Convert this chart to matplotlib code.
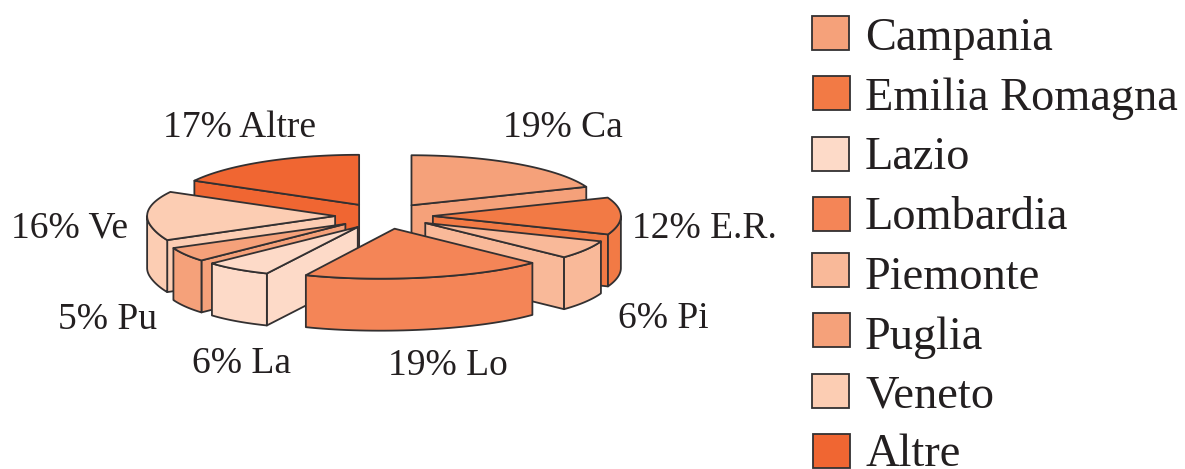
import matplotlib
matplotlib.use('Agg')
import matplotlib.pyplot as plt
from matplotlib.patches import Polygon, Rectangle
import numpy as np

# Share of total per region, in legend order
regions = ['Campania', 'Emilia Romagna', 'Lazio', 'Lombardia', 'Piemonte', 'Puglia', 'Veneto', 'Altre']
shares = [19, 12, 6, 19, 6, 5, 16, 17]
short_names = ['Ca', 'E.R.', 'La', 'Lo', 'Pi', 'Pu', 'Ve', 'Altre']
colors = ['#f5a17a', '#f27a45', '#fddac8', '#f48557', '#f9b999', '#f5a17a', '#fccdb3', '#f06632']

# Order the slices go around the pie, and the back-to-front paint order
pie_order = ['Campania', 'Emilia Romagna', 'Piemonte', 'Lombardia', 'Lazio', 'Puglia', 'Veneto', 'Altre']
paint_order = ['Altre', 'Campania', 'Veneto', 'Emilia Romagna', 'Puglia', 'Piemonte', 'Lazio', 'Lombardia']

# Pie geometry in pixels
cx, cy = 384, 216
rx, ry = 188, 50
depth = 52
explode = 0.26
lean = 4.0e-5
lean_x, lean_y = 520, 225

label_pos = {
    'Ca': (503, 137), 'E.R.': (632, 238), 'Pi': (618, 328), 'Lo': (388, 375),
    'La': (192, 373), 'Pu': (58, 329), 'Ve': (11, 238), 'Altre': (163, 137),
}
legend_tops = [16, 76, 137, 197, 253, 313, 374, 434]
legend_lefts = [811.5, 813, 811.5, 813, 811.5, 813, 811.5, 813]
legend_base = [50, 110, 169, 229, 289, 349, 408, 466]

plt.rcParams['font.family'] = ['Liberation Serif', 'DejaVu Serif']
text_color = '#231f20'
edge = '#333031'

fig = plt.figure(figsize=(11.85, 4.69), dpi=100)
ax = fig.add_axes([0, 0, 1, 1])
ax.set_xlim(0, 1185)
ax.set_ylim(469, 0)
ax.axis('off')


def warp(x, y):
    # front of the pie leans out to the left
    return x + (x - lean_x) * lean * np.maximum(y - lean_y, 0) ** 2, y


def project(ox, oy, theta):
    return warp(ox + rx * np.cos(theta), oy + ry * np.sin(theta))


def face(pts, color, z):
    ax.add_patch(Polygon(pts, closed=True, facecolor=color, edgecolor=edge, lw=1.3, joinstyle='round', zorder=z))


# Start and end angle of each slice
spans = {}
start = -90.0
for name in pie_order:
    sweep = shares[regions.index(name)] * 3.6
    spans[name] = (start, start + sweep)
    start += sweep

for z, name in enumerate(paint_order):
    color = colors[regions.index(name)]
    t1, t2 = spans[name]
    mid = np.radians((t1 + t2) / 2)
    ox = cx + explode * rx * np.cos(mid)
    oy = cy + explode * ry * np.sin(mid)
    a1, a2 = np.radians(t1), np.radians(t2)
    apex = np.array(warp(ox, oy))

    # cut faces turned towards the viewer
    for a, visible in ((a1, -np.cos(a1) > 1e-6), (a2, np.cos(a2) > 1e-6)):
        if visible:
            p = np.array(project(ox, oy, a))
            face([apex, p, p + [0, depth], apex + [0, depth]], color, z * 3)

    # outer rim, only the part on the near side
    f1, f2 = max(t1, 0), min(t2, 180)
    if f2 > f1:
        th = np.radians(np.linspace(f1, f2, 40))
        top = np.column_stack(project(ox, oy, th))
        face(np.vstack([top, top[::-1] + [0, depth]]), color, z * 3 + 1)

    # top of the slice
    th = np.radians(np.linspace(t1, t2, 60))
    face(np.vstack([apex, np.column_stack(project(ox, oy, th))]), color, z * 3 + 2)

for share, short in zip(shares, short_names):
    x, y = label_pos[short]
    ax.text(x, y, f'{share}% {short}', fontsize=27, color=text_color, ha='left', va='baseline')

for i, name in enumerate(regions):
    ax.add_patch(Rectangle((legend_lefts[i], legend_tops[i]), 37, 34, facecolor=colors[i], edgecolor=edge, lw=1.3))
    ax.text(865, legend_base[i], name, fontsize=33.4, color=text_color, ha='left', va='baseline')

fig.savefig('out.png', dpi=100)
